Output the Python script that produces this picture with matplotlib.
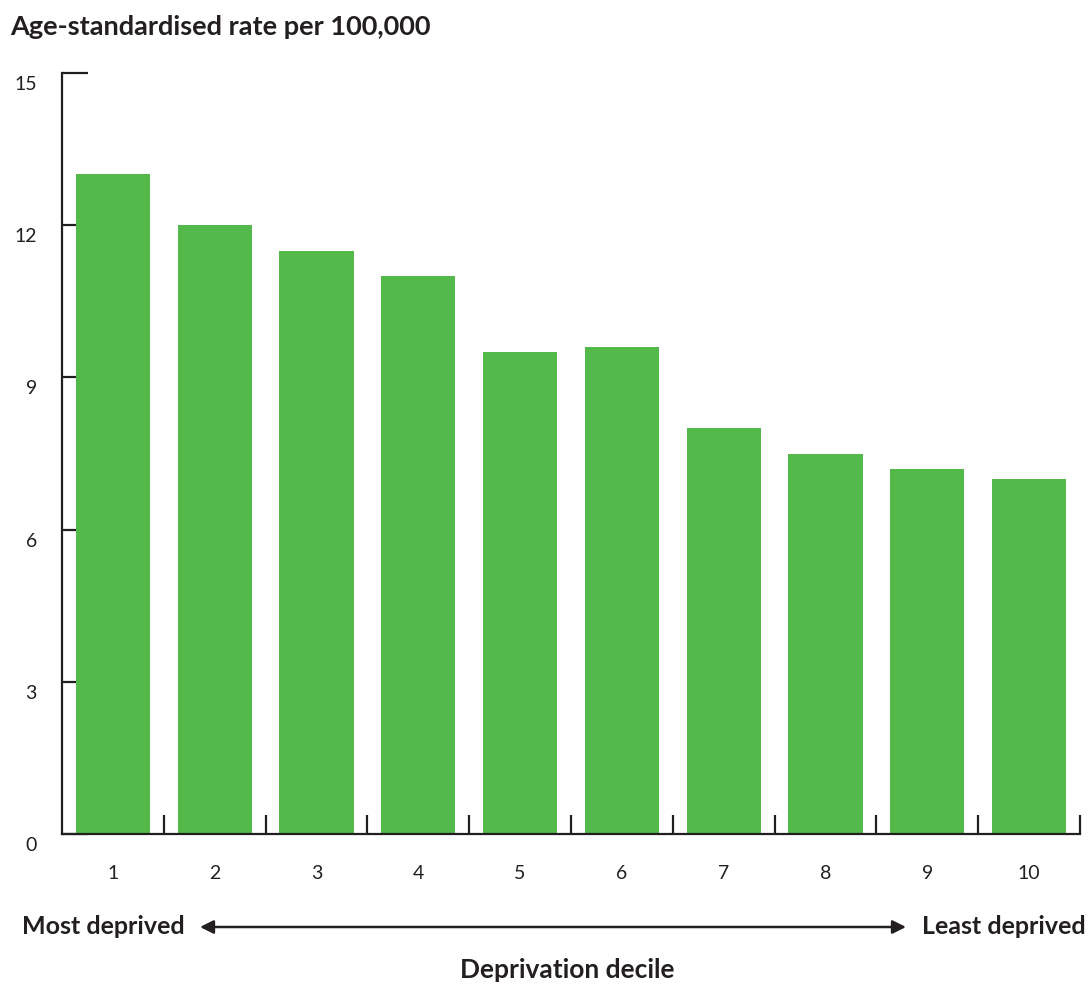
import matplotlib
matplotlib.use('Agg')
import matplotlib.pyplot as plt
import matplotlib.transforms as mtransforms
from numpy import arange

plt.rcParams['font.family'] = ['Lato', 'DejaVu Sans']

deciles = ['1', '2', '3', '4', '5', '6', '7', '8', '9', '10']
rates = [13.0, 12.0, 11.5, 11.0, 9.5, 9.6, 8.0, 7.5, 7.2, 7.0]
y_ticks = [0, 3, 6, 9, 12, 15]

bar_color = '#52B94A'
ink = '#231f20'

fig = plt.figure(figsize=(10.92, 9.9), dpi=100)
ax = fig.add_axes([62 / 1092, 156 / 990, (1080 - 62) / 1092, (834 - 73) / 990])

x = arange(1, len(rates) + 1)
ax.bar(x, rates, width=0.73, color=bar_color, zorder=2)
ax.set_axisbelow(True)

ax.set_xlim(0.5, len(rates) + 0.5)
ax.set_ylim(0, 15)

for side in ['top', 'right']:
    ax.spines[side].set_visible(False)
for side in ['left', 'bottom']:
    ax.spines[side].set_color(ink)
    ax.spines[side].set_linewidth(1.6)

# y ticks point inward, labels nudged below tick
ax.set_yticks(y_ticks)
ax.set_yticklabels([str(v) for v in y_ticks], fontsize=14, color=ink)
ax.tick_params(axis='y', direction='in', length=19, width=1.6, color=ink, pad=18)
offset = mtransforms.ScaledTranslation(0, -10 / 100, fig.dpi_scale_trans)
for lbl in ax.get_yticklabels():
    lbl.set_transform(lbl.get_transform() + offset)

# x: labels at centres, tick marks between bars
ax.set_xticks(x)
ax.set_xticklabels(deciles, fontsize=14, color=ink)
ax.tick_params(axis='x', which='major', length=0, pad=22)
ax.set_xticks(arange(1.5, len(rates) + 0.6, 1.0), minor=True)
ax.tick_params(axis='x', which='minor', direction='in', length=14, width=1.6, color=ink)

fig.text(10 / 1092, 1 - 27 / 990, 'Age-standardised rate per 100,000', fontsize=19.5,
         fontweight='bold', color=ink, ha='left', va='center')

fig.text(22 / 1092, 1 - 927 / 990, 'Most deprived', fontsize=18, fontweight='bold',
         color=ink, ha='left', va='center')
fig.text(1086 / 1092, 1 - 927 / 990, 'Least deprived', fontsize=18, fontweight='bold',
         color=ink, ha='right', va='center')
fig.text(567 / 1092, 1 - 970 / 990, 'Deprivation decile', fontsize=19, fontweight='bold',
         color=ink, ha='center', va='center')

fig.add_artist(matplotlib.patches.FancyArrowPatch(
    (200 / 1092, 1 - 927 / 990), (906 / 1092, 1 - 927 / 990),
    transform=fig.transFigure, arrowstyle='<|-|>', mutation_scale=20,
    color=ink, linewidth=1.8, shrinkA=0, shrinkB=0))

fig.savefig('out.png', dpi=100)
